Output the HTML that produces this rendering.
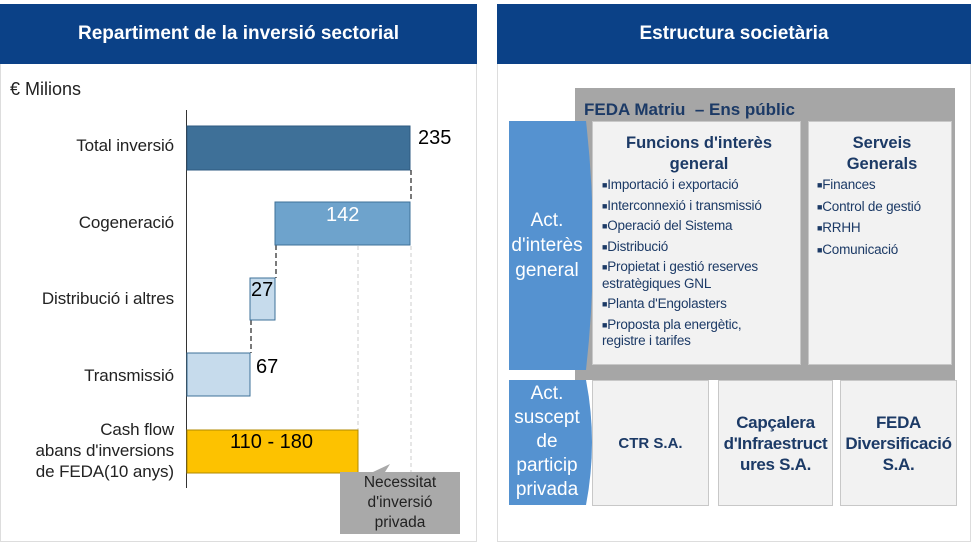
<!DOCTYPE html>
<html><head><meta charset="utf-8"><style>
body{margin:0;width:973px;height:544px;background:#fff;position:relative;font-family:"Liberation Sans",Arial,sans-serif;overflow:hidden}
.a{position:absolute}
.hdr{background:#0b4187;color:#fff;font-weight:bold;font-size:19px;text-align:center;line-height:60px;top:4px;height:60px}
.lbl{left:0;text-align:right;font-size:17px;color:#222;width:174px;letter-spacing:-0.1px}
.box{background:#f2f2f2;border:1px solid #c8c8c8;box-sizing:border-box}
.t{color:#1c3a66}
ul{list-style:none;margin:0;padding:0}
li{font-size:13.5px;color:#1c3a66;line-height:16.5px;margin-bottom:4px;letter-spacing:-0.2px}
li:before{content:"\25A0";font-size:9px;vertical-align:1px}
.bl{background:#5592d0;color:#fff;text-align:center;font-size:19px}
.v{font-size:20px}
</style></head><body>
<div class="a" style="left:0;top:4px;width:477px;height:538px;border:1px solid #ddd;box-sizing:border-box"></div>
<div class="a" style="left:497px;top:4px;width:474px;height:538px;border:1px solid #ddd;box-sizing:border-box"></div>
<div class="a hdr" style="left:0;width:477px">Repartiment de la inversió sectorial</div>
<div class="a hdr" style="left:497px;width:474px">Estructura societària</div>

<div class="a" style="left:10px;top:79px;font-size:18px;color:#222">€ Milions</div>
<div class="a" style="left:186px;top:110px;width:1px;height:378px;background:#333"></div>
<svg class="a" style="left:0;top:0" width="480" height="544">
<g stroke="#333" stroke-dasharray="5,3" stroke-width="1.3">
<line x1="411" y1="170" x2="411" y2="202"/><line x1="276" y1="245" x2="276" y2="278"/><line x1="251" y1="320" x2="251" y2="353"/></g>
<g stroke="#ccc" stroke-dasharray="4,3"><line x1="358" y1="246" x2="358" y2="430"/><line x1="411" y1="246" x2="411" y2="472"/></g>
<rect x="187" y="126" width="223" height="44" fill="#3e7098" stroke="#2e5a80"/>
<rect x="275" y="202" width="135" height="43" fill="#6ea3cc" stroke="#3e7098"/>
<rect x="250" y="278" width="25" height="42" fill="#c6dbec" stroke="#3e7098"/>
<rect x="187" y="353" width="63" height="43" fill="#c6dbec" stroke="#3e7098"/>
<rect x="187" y="430" width="171" height="43" fill="#fdc200" stroke="#b08a00"/>
<polygon points="340,472 373,472 390,464 385,472 460,472 460,534 340,534" fill="#a9a9a9"/>
</svg>
<div class="a lbl" style="top:136px">Total inversió</div>
<div class="a lbl" style="top:213px">Cogeneració</div>
<div class="a lbl" style="top:289px">Distribució i altres</div>
<div class="a lbl" style="top:366px">Transmissió</div>
<div class="a lbl" style="top:419px;line-height:21px">Cash flow<br>abans d'inversions<br>de FEDA(10 anys)</div>
<div class="a v" style="left:418px;top:127px">235</div>
<div class="a v" style="left:326px;top:204px;color:#fff">142</div>
<div class="a v" style="left:251px;top:279px">27</div>
<div class="a v" style="left:256px;top:356px">67</div>
<div class="a v" style="left:230px;top:431px">110 - 180</div>
<div class="a" style="left:340px;top:473px;width:120px;text-align:center;font-size:15.5px;line-height:20px;color:#222">Necessitat<br>d'inversió<br>privada</div>

<div class="a" style="left:575px;top:88px;width:380px;height:292px;background:#a6a6a6"></div>
<div class="a t" style="left:584px;top:100px;font-size:17px;font-weight:bold">FEDA Matriu &nbsp;– Ens públic</div>
<svg class="a" style="left:508px;top:120px" width="90" height="390">
<path d="M1 1 H78 Q92 125 78 250 H1Z" fill="#5592d0"/>
<path d="M1 260 H78 Q90 322 78 385 H1Z" fill="#5592d0"/>
</svg>
<div class="a bl" style="left:509px;top:208px;width:76px;line-height:25px">Act.<br>d'interès<br>general</div>
<div class="a bl" style="left:509px;top:382px;width:76px;line-height:24px">Act.<br>suscept<br>de<br>particip<br>privada</div>
<div class="a box" style="left:592px;top:121px;width:209px;height:244px;padding:11px 4px 0 9px">
<div class="t" style="text-align:center;font-weight:bold;font-size:16.5px;line-height:21px;margin-bottom:2px">Funcions d'interès<br>general</div>
<ul><li>Importació i exportació</li><li>Interconnexió i transmissió</li><li>Operació del Sistema</li><li>Distribució</li><li>Propietat i gestió reserves<br>estratègiques GNL</li><li>Planta d'Engolasters</li><li>Proposta pla energètic,<br>registre i tarifes</li></ul></div>
<div class="a box" style="left:808px;top:121px;width:144px;height:244px;padding:11px 4px 0 8px">
<div class="t" style="text-align:center;font-weight:bold;font-size:16.5px;line-height:21px;margin-bottom:2px">Serveis<br>Generals</div>
<ul><li style="margin-bottom:5px">Finances</li><li style="margin-bottom:5px">Control de gestió</li><li style="margin-bottom:5px">RRHH</li><li>Comunicació</li></ul></div>
<div class="a box t" style="left:592px;top:380px;width:117px;height:126px;font-weight:bold;font-size:15px;text-align:center;line-height:126px">CTR S.A.</div>
<div class="a box t" style="left:718px;top:380px;width:115px;height:126px;font-weight:bold;font-size:17px;text-align:center;padding-top:31px;line-height:21px;letter-spacing:-0.3px">Capçalera d'Infraestruct ures S.A.</div>
<div class="a box t" style="left:840px;top:380px;width:117px;height:126px;font-weight:bold;font-size:17px;text-align:center;padding-top:31px;line-height:21px;letter-spacing:-0.3px">FEDA Diversificació S.A.</div>
</body></html>
